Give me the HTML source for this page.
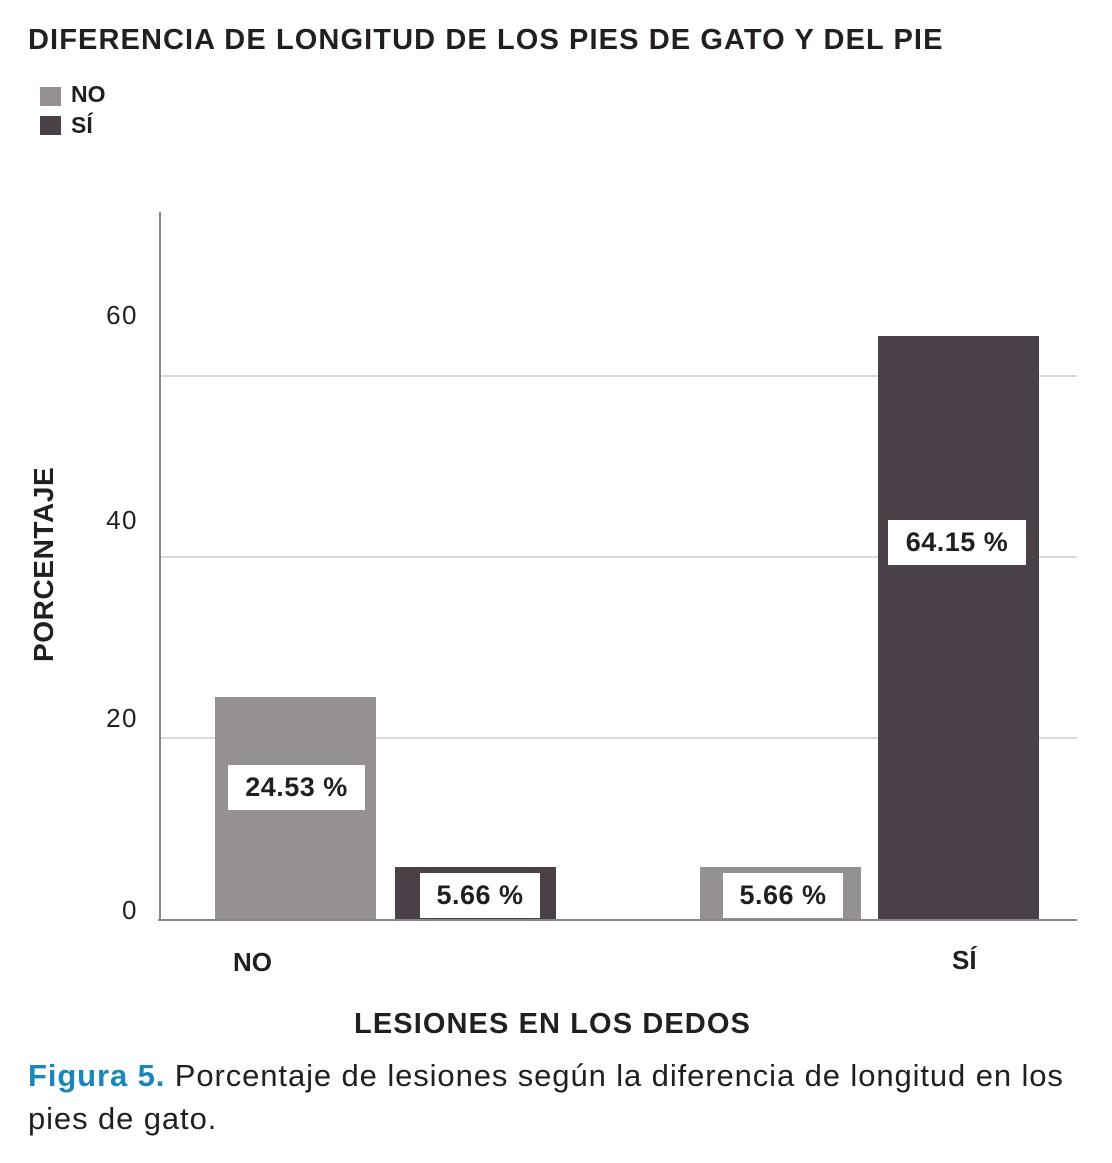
<!DOCTYPE html>
<html><head><meta charset="utf-8"><style>
body{margin:0;background:#fff;}
#c{position:relative;width:1112px;height:1163px;font-family:"Liberation Sans",sans-serif;color:#231f20;overflow:hidden}
.a{position:absolute;white-space:nowrap}
.b{position:absolute}
.lb{position:absolute;background:#fff;font-weight:bold;font-size:27px;text-align:center;line-height:45px;height:45px;letter-spacing:0.5px}
.g{position:absolute;left:160px;width:917px;height:2px;background:#d9d9d9}
.t{position:absolute;font-size:26px;text-align:right;width:60px;left:78px;letter-spacing:1.5px}
</style></head><body><div id="c">
<div class="a" style="left:28px;top:24px;font-size:29px;font-weight:bold;letter-spacing:1.1px">DIFERENCIA DE LONGITUD DE LOS PIES DE GATO Y DEL PIE</div>
<div class="b" style="left:40px;top:87px;width:21px;height:19px;background:#959192"></div>
<div class="a" style="left:71px;top:81px;font-size:23px;font-weight:bold">NO</div>
<div class="b" style="left:40px;top:116px;width:21px;height:19px;background:#4a4148"></div>
<div class="a" style="left:71px;top:112px;font-size:23px;font-weight:bold">SÍ</div>
<div class="g" style="top:375px"></div>
<div class="g" style="top:556px"></div>
<div class="g" style="top:737px"></div>
<div class="t" style="top:300px">60</div>
<div class="t" style="top:505px">40</div>
<div class="t" style="top:703px">20</div>
<div class="t" style="top:895px">0</div>
<div class="b" style="left:159px;top:212px;width:2px;height:709px;background:#888"></div>
<div class="b" style="left:215px;top:697px;width:161px;height:223px;background:#959192"></div>
<div class="b" style="left:395px;top:867px;width:161px;height:53px;background:#4a4148"></div>
<div class="b" style="left:700px;top:867px;width:161px;height:53px;background:#959192"></div>
<div class="b" style="left:878px;top:336px;width:161px;height:584px;background:#4a4148"></div>
<div class="b" style="left:158px;top:919px;width:919px;height:2px;background:#888"></div>
<div class="lb" style="left:228px;top:765px;width:137px">24.53 %</div>
<div class="lb" style="left:420px;top:873px;width:120px">5.66 %</div>
<div class="lb" style="left:723px;top:873px;width:120px">5.66 %</div>
<div class="lb" style="left:888px;top:520px;width:138px">64.15 %</div>
<div class="a" style="left:233px;top:947px;font-size:26px;font-weight:bold">NO</div>
<div class="a" style="left:952px;top:945px;font-size:26px;font-weight:bold">SÍ</div>
<div class="a" style="left:28px;top:662px;font-size:28px;font-weight:bold;letter-spacing:0.6px;transform:rotate(-90deg);transform-origin:0 0">PORCENTAJE</div>
<div class="a" style="left:354px;top:1008px;font-size:29px;font-weight:bold;letter-spacing:1.1px">LESIONES EN LOS DEDOS</div>
<div class="a" style="left:28px;top:1054px;font-size:31px;line-height:43px;letter-spacing:0.9px"><b style="color:#1a87b8">Figura 5.</b> Porcentaje de lesiones según la diferencia de longitud en los<br>pies de gato.</div>
</div></body></html>
